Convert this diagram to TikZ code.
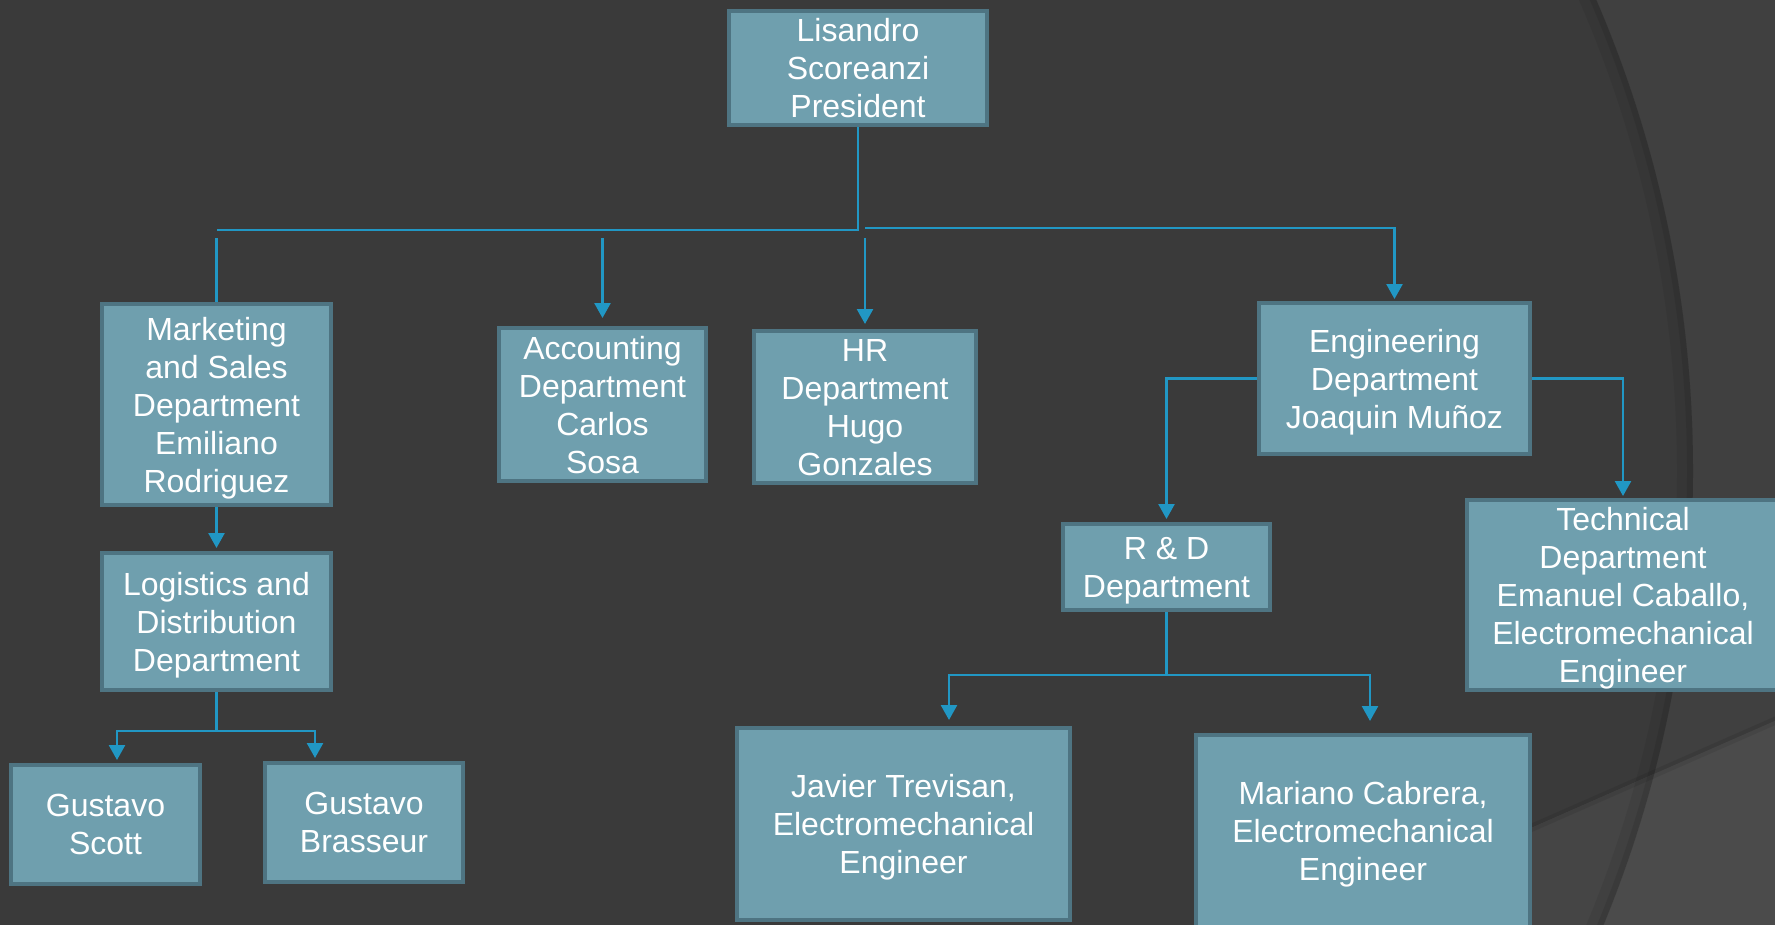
\documentclass[tikz,border=0pt]{standalone}
\usepackage{fontspec}
\setmainfont{Liberation Sans}
\usetikzlibrary{arrows.meta}
\definecolor{bgdark}{HTML}{3A3A3A}
\definecolor{bgout}{HTML}{404040}
\definecolor{bglowin}{HTML}{454545}
\definecolor{bglowout}{HTML}{4B4B4B}
\definecolor{boxfill}{HTML}{6F9FAE}
\definecolor{boxborder}{HTML}{4E7482}
\definecolor{conncolor}{HTML}{2197C4}
\tikzset{
  box/.style={draw=boxborder, line width=4pt, fill=boxfill, text=white,
    align=center, inner sep=0pt, font=\fontsize{32}{38}\selectfont,
    text depth=0pt},
  dims/.style 2 args={minimum width=#1pt-4pt, minimum height=#2pt-4pt},
  conn/.style={draw=conncolor, line width=2.5pt},
  arr/.style={conn, -{Triangle[width=16pt,length=15pt]}}
}
\begin{document}
\begin{tikzpicture}[x=1pt,y=-1pt]
\useasboundingbox (0,0) rectangle (1775,924);
% background
\fill[bgout] (-20,-20) rectangle (1795,944);
\begin{scope}
  \clip (-20,-20) rectangle (1795,944);
  \fill[bgdark] (501,471) circle[radius=1192];
  \fill[bglowout] (1290,934) -- (1795,712) -- (1795,944) -- (1290,944) -- cycle;
  \begin{scope}
    \clip (501,471) circle[radius=1192];
    \fill[bglowin] (1290,934) -- (1795,712) -- (1795,944) -- (1290,944) -- cycle;
  \end{scope}
  \draw[black, opacity=0.06, line width=16pt] (501,471) circle[radius=1184];
  \draw[black, opacity=0.08, line width=6pt] (501,471) circle[radius=1189];
  \draw[black, opacity=0.08, line width=8pt] (1290,934) -- (1795,712);
\end{scope}

% nodes
\node[box, dims={262}{118}] (pres) at (858,68) {Lisandro\\Scoreanzi\\President};
\node[box, dims={233}{205}] (mkt) at (216.5,404.5) {Marketing\\and Sales\\Department\\Emiliano\\Rodriguez};
\node[box, dims={211}{157}] (acc) at (602.5,404.5) {Accounting\\Department\\Carlos\\Sosa};
\node[box, dims={226}{156}] (hr) at (865,407) {HR\\Department\\Hugo\\Gonzales};
\node[box, dims={275}{155}] (eng) at (1394.5,378.5) {Engineering\\Department\\Joaquin Muñoz};
\node[box, dims={211}{90}] (rd) at (1166.5,567) {R \& D\\Department};
\node[box, dims={316}{194}] (tech) at (1623,595) {Technical\\Department\\Emanuel Caballo,\\Electromechanical\\Engineer};
\node[box, dims={233}{141}] (log) at (216.5,621.5) {Logistics and\\Distribution\\Department};
\node[box, dims={193}{123}] (gs) at (105.5,824.5) {Gustavo\\Scott};
\node[box, dims={202}{123}] (gb) at (364,822.5) {Gustavo\\Brasseur};
\node[box, dims={337}{196}] (jav) at (903.5,824) {Javier Trevisan,\\Electromechanical\\Engineer};
\node[box, dims={338}{196}] (mar) at (1363,831) {Mariano Cabrera,\\Electromechanical\\Engineer};

% free ends
\coordinate (topleft) at (216.5,230);
\coordinate (mktin) at (216.5,238);
\coordinate (accin) at (602.5,238);
\coordinate (hrin) at (865,238);
\coordinate (engin) at (865,228);
\coordinate (logsplit) at (216.5,731);
\coordinate (rdsplit) at (1166.5,675);

% connectors
\draw[conn] (pres.south) |- (topleft);
\draw[conn] (mktin) -- (mkt.north);
\draw[arr, shorten >=8pt] (accin) -- (acc.north);
\draw[arr, shorten >=5pt] (hrin) -- (hr.north);
\draw[arr, shorten >=2pt] (engin) -| (eng.north);
\draw[arr, shorten >=3pt] (eng.west) -| (rd.north);
\draw[arr, shorten >=2pt] (eng.east) -| (tech.north);
\draw[arr, shorten >=3pt] (mkt.south) -- (log.north);
\draw[conn] (log.south) -- (logsplit);
\draw[arr, shorten >=3pt] (logsplit) -| ([xshift=11.5pt]gs.north);
\draw[arr, shorten >=3pt] (logsplit) -| ([xshift=-49pt]gb.north);
\draw[conn] (rd.south) -- (rdsplit);
\draw[arr, shorten >=6pt] (rdsplit) -| ([xshift=45.5pt]jav.north);
\draw[arr, shorten >=12pt] (rdsplit) -| ([xshift=7pt]mar.north);
\end{tikzpicture}
\end{document}
